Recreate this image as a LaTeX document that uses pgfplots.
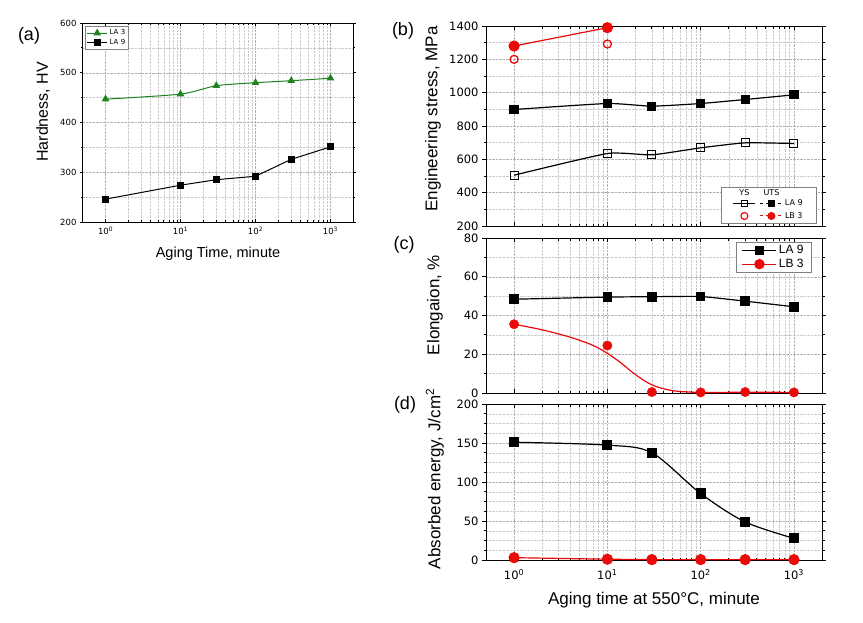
\documentclass[border=0pt]{standalone}
\usepackage{pgfplots}
\pgfplotsset{compat=1.18}
\usepackage{fontspec}
\setmainfont{Liberation Sans}
\newfontfamily\dejavu{DejaVu Sans}
\definecolor{mygreen}{RGB}{30,130,30}
\definecolor{myred}{RGB}{235,10,10}
\pgfplotsset{
  mybase/.style={
    scale only axis, xmin=0.5, xmax=2000,
    grid=both,
    major grid style={densely dotted, gray!60, line width=0.5pt},
    minor grid style={densely dotted, gray!40, line width=0.4pt},
    axis line style={line width=1pt},
    xtick align=inside, ytick align=outside,
    major tick length=4pt, minor tick length=2.5pt,
    tick style={black, line width=0.8pt},
    xtick={1,10,100,1000},
    /pgf/number format/assume math mode=true,
    /pgf/number format/1000 sep={},
    clip=false,
  },
  bigtick/.style={tick label style={font=\dejavu\fontsize{11.5}{12}\selectfont}},
  biglab/.style={label style={font=\fontsize{17}{19}\selectfont}},
}
\begin{document}
\begin{tikzpicture}
\path[use as bounding box] (0pt,0pt) rectangle (863pt,-622pt);
\node[font=\fontsize{18}{20}\selectfont] at (29pt,-36pt) {(a)};
\node[font=\fontsize{18}{20}\selectfont] at (403pt,-31pt) {(b)};
\node[font=\fontsize{18}{20}\selectfont] at (404pt,-245pt) {(c)};
\node[font=\fontsize{18}{20}\selectfont] at (405pt,-405pt) {(d)};

% ---------- (a)
\begin{semilogxaxis}[mybase, at={(83pt,-23pt)}, anchor=north west, width=270pt, height=199pt,
  ymin=200, ymax=600, ytick={200,300,...,600}, minor y tick num=1,
  major tick length=3pt, minor tick length=2pt,
  xticklabels={10\textsuperscript{0},10\textsuperscript{1},10\textsuperscript{2},10\textsuperscript{3}},
  tick label style={font=\dejavu\fontsize{8.5}{9}\selectfont},
  xticklabel style={yshift=-2pt},
  xlabel={Aging Time, minute}, ylabel={Hardness, HV},
  xlabel style={font=\fontsize{14.5}{16}\selectfont, at={(axis description cs:0.5,-0.158)}, anchor=center},
  ylabel style={font=\fontsize{16}{18}\selectfont, at={(axis description cs:-0.148,0.553)}, anchor=center},
  legend style={at={(axis description cs:0.007,0.985)}, anchor=north west,
    font=\dejavu\fontsize{7}{7.5}\selectfont, draw=gray, line width=0.6pt, inner sep=1.5pt, row sep=-1pt},
  legend image code/.code={\draw[mark repeat=2,mark phase=2,#1] plot coordinates {(0pt,0pt) (10pt,0pt) (20pt,0pt)};},
  legend cell align=left,
]
\addplot[mygreen, line width=1pt, smooth, tension=0.4, mark=triangle*, mark size=3.5pt, mark options={solid}]
  coordinates {(1,447)(10,457)(30,474)(100,480)(300,484)(1000,489)};
\addlegendentry{LA 3}
\addplot[black, line width=1pt, mark=square*, mark size=3pt]
  coordinates {(1,246)(10,274)(30,285)(100,292)(300,326)(1000,351)};
\addlegendentry{LA 9}
\end{semilogxaxis}

% ---------- (b)
\begin{semilogxaxis}[mybase, bigtick, biglab, at={(486pt,-26pt)}, anchor=north west, width=336pt, height=200pt,
  ymin=200, ymax=1400, ytick={200,400,...,1400}, minor y tick num=1,
  xticklabels={},
  ylabel={Engineering stress, MPa},
  ylabel style={at={(axis description cs:-0.158,0.535)}, anchor=center},
  legend columns=2,
  legend style={at={(axis description cs:0.985,0.01)}, anchor=south east,
    font=\dejavu\fontsize{8}{9}\selectfont, draw=gray, line width=0.6pt,
    inner xsep=12pt, inner ysep=2pt, row sep=1pt},
  legend image code/.code={\draw[mark repeat=2,mark phase=2,#1] plot coordinates {(0pt,0pt) (11pt,0pt) (22pt,0pt)};},
]
\addplot[black, line width=1.2pt, smooth, tension=0.3, mark=square, mark size=4pt, mark options={fill=white, line width=1pt}, forget plot]
  coordinates {(1,505)(10,635)(30,627)(100,669)(300,699)(1000,695)};
\addplot[black, line width=1.2pt, smooth, tension=0.3, mark=square*, mark size=4pt, forget plot]
  coordinates {(1,899)(10,935)(30,919)(100,935)(300,959)(1000,987)};
\addplot[myred, line width=1.2pt, mark=*, mark size=5pt, forget plot]
  coordinates {(1,1280)(10,1390)};
\addplot[myred, only marks, mark=o, mark size=4pt, mark options={line width=1.3pt}, forget plot]
  coordinates {(1,1200)(10,1292)};
\addlegendimage{legend image code/.code={\node[font=\dejavu\fontsize{8}{9}\selectfont, inner sep=0pt] at (11pt,0pt) {YS};}}
\addlegendentry{}
\addlegendimage{legend image code/.code={\node[font=\dejavu\fontsize{8}{9}\selectfont, inner sep=0pt] at (11pt,0pt) {UTS};}}
\addlegendentry{}
\addlegendimage{black, line width=1pt, mark=square, mark size=3pt, mark options={fill=white}}
\addlegendentry{}
\addlegendimage{black, line width=1pt, dashed, mark=square*, mark size=3pt, mark options={solid}}
\addlegendentry{LA 9}
\addlegendimage{only marks, myred, mark=o, mark size=3.5pt, mark options={line width=1.2pt}}
\addlegendentry{}
\addlegendimage{myred, line width=1pt, dashed, mark=*, mark size=3.5pt, mark options={solid}}
\addlegendentry{LB 3}
\end{semilogxaxis}

% ---------- (c)
\begin{semilogxaxis}[mybase, bigtick, biglab, at={(486pt,-238pt)}, anchor=north west, width=336pt, height=155pt,
  ymin=0, ymax=80, ytick={0,20,...,80}, minor y tick num=1,
  xticklabels={},
  ylabel={Elongaion, \%},
  ylabel style={at={(axis description cs:-0.152,0.568)}, anchor=center},
  legend style={at={(axis description cs:0.97,0.974)}, anchor=north east,
    font=\fontsize{12}{13}\selectfont, draw=gray, line width=0.6pt,
    inner xsep=6pt, inner ysep=1pt, row sep=0pt},
  legend image code/.code={\draw[mark repeat=2,mark phase=2,#1] plot coordinates {(0pt,0pt) (17pt,0pt) (34pt,0pt)};},
]
\addplot[black, line width=1.2pt, smooth, tension=0.3, mark=square*, mark size=4.2pt, forget plot]
  coordinates {(1,48.4)(10,49.5)(30,49.7)(100,49.8)(300,47.4)(1000,44.5)};
\addplot[myred, line width=1.2pt, smooth, tension=0.5, forget plot]
  coordinates {(1,35.5)(2,32.6)(4,28.8)(7,24.6)(10,20.5)(14,15.5)(20,9.5)(30,4.2)(50,1.2)(100,0.3)(300,0.4)(1000,0.3)};
\addplot[myred, only marks, mark=*, mark size=4.7pt, forget plot]
  coordinates {(1,35.5)(10,24.5)(30,0.5)(100,0.3)(300,0.5)(1000,0.3)};
\addlegendimage{black, line width=1pt, mark=square*, mark size=4.2pt}
\addlegendentry{LA 9}
\addlegendimage{myred, line width=1pt, mark=*, mark size=4.7pt}
\addlegendentry{LB 3}
\end{semilogxaxis}

% ---------- (d)
\begin{semilogxaxis}[mybase, bigtick, biglab, at={(486pt,-404pt)}, anchor=north west, width=336pt, height=156pt,
  ymin=0, ymax=200, ytick={0,50,...,200}, minor y tick num=3,
  xticklabels={10\textsuperscript{0},10\textsuperscript{1},10\textsuperscript{2},10\textsuperscript{3}},
  xticklabel style={yshift=-6pt},
  xlabel={Aging time at 550°C, minute},
  xlabel style={at={(axis description cs:0.5,-0.256)}, anchor=center},
  ylabel={Absorbed energy, J/cm\textsuperscript{2}},
  ylabel style={at={(axis description cs:-0.152,0.52)}, anchor=center},
]
\addplot[black, line width=1.2pt, smooth, tension=0.5, mark=square*, mark size=4.5pt]
  coordinates {(1,151)(10,147.3)(30,137.5)(100,85.2)(300,48.8)(1000,27.8)};
\addplot[myred, line width=1.2pt, mark=*, mark size=5pt]
  coordinates {(1,3)(10,1)(30,0.5)(100,0.5)(300,0.5)(1000,0.5)};
\end{semilogxaxis}
\end{tikzpicture}
\end{document}
